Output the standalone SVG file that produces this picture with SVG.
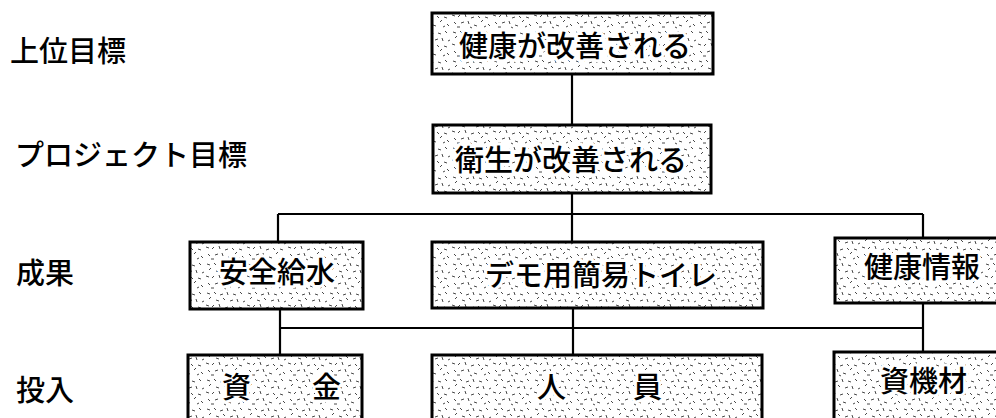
<svg xmlns="http://www.w3.org/2000/svg" width="996" height="418" viewBox="0 0 996 418">
<style>
.box{fill:url(#speck);stroke:#000;stroke-width:3}
.bt{font-family:"Noto Sans CJK JP","Noto Sans CJK SC",sans-serif;font-size:29px;font-weight:500;fill:#000;stroke:#fff;stroke-width:6;stroke-linejoin:round;paint-order:stroke}
.lbl{font-family:"Noto Sans CJK JP","Noto Sans CJK SC",sans-serif;font-size:29px;font-weight:500;fill:#000}
.con{stroke:#000;stroke-width:2.2;fill:none}
</style>
<defs>
<pattern id="speck" patternUnits="userSpaceOnUse" width="41" height="29">
<rect width="41" height="29" fill="#fff"/>
<g stroke="#333" stroke-width="0.9" fill="none">
<path d="M2 3l3 1M9 2l2 2M15 5l3-1M22 2l1 3M28 4l3 1M35 2l2 2M4 9l2-2M11 10l3 1M18 8l2 2M25 11l3-1M32 9l1 3M38 12l2-1M1 15l3 1M7 17l2-2M14 14l1 3M20 18l3-1M27 16l2 2M34 17l3 1M3 22l2 2M10 23l3-1M17 21l1 3M23 25l3 1M30 22l2-2M37 24l2 2M6 27l3 0M19 27l2 1M33 27l2-1"/>
</g>
</pattern>
</defs>
<g id="connectors">
<path class="con" d="M572 74V125"/>
<path class="con" d="M572 193V242"/>
<path class="con" d="M278 214H923"/>
<path class="con" d="M278 214V242"/>
<path class="con" d="M923 214V238"/>
<path class="con" d="M280 328H923"/>
<path class="con" d="M280 309V355"/>
<path class="con" d="M573 308V355"/>
<path class="con" d="M923 303V352"/>
</g>
<g id="label-goal"><text class="lbl" x="10" y="62">上位目標</text></g>
<g id="label-project"><text class="lbl" x="15" y="166">プロジェクト目標</text></g>
<g id="label-output"><text class="lbl" x="16" y="284">成果</text></g>
<g id="label-input"><text class="lbl" x="16" y="401">投入</text></g>
<g id="node-health">
<rect class="box" x="432" y="13" width="281" height="61"/>
<text class="bt" x="575" y="57" text-anchor="middle">健康が改善される</text>
</g>
<g id="node-hygiene">
<rect class="box" x="433" y="125" width="278" height="68"/>
<text class="bt" x="571" y="171" text-anchor="middle">衛生が改善される</text>
</g>
<g id="node-water">
<rect class="box" x="190" y="242" width="173" height="67"/>
<text class="bt" x="277" y="283" text-anchor="middle">安全給水</text>
</g>
<g id="node-toilet">
<rect class="box" x="432" y="242" width="331" height="66"/>
<text class="bt" x="601" y="286" text-anchor="middle">デモ用簡易トイレ</text>
</g>
<g id="node-info">
<rect class="box" x="835" y="238" width="200" height="65"/>
<text class="bt" x="864" y="278">健康情報</text>
</g>
<g id="node-funds">
<rect class="box" x="188" y="355" width="174" height="90"/>
<text class="bt" x="222" y="398" style="letter-spacing:1px">資　　金</text>
</g>
<g id="node-staff">
<rect class="box" x="432" y="355" width="330" height="90"/>
<text class="bt" x="537" y="398" style="letter-spacing:3px">人　　員</text>
</g>
<g id="node-equipment">
<rect class="box" x="834" y="352" width="200" height="90"/>
<text class="bt" x="880" y="392">資機材</text>
</g>
</svg>
